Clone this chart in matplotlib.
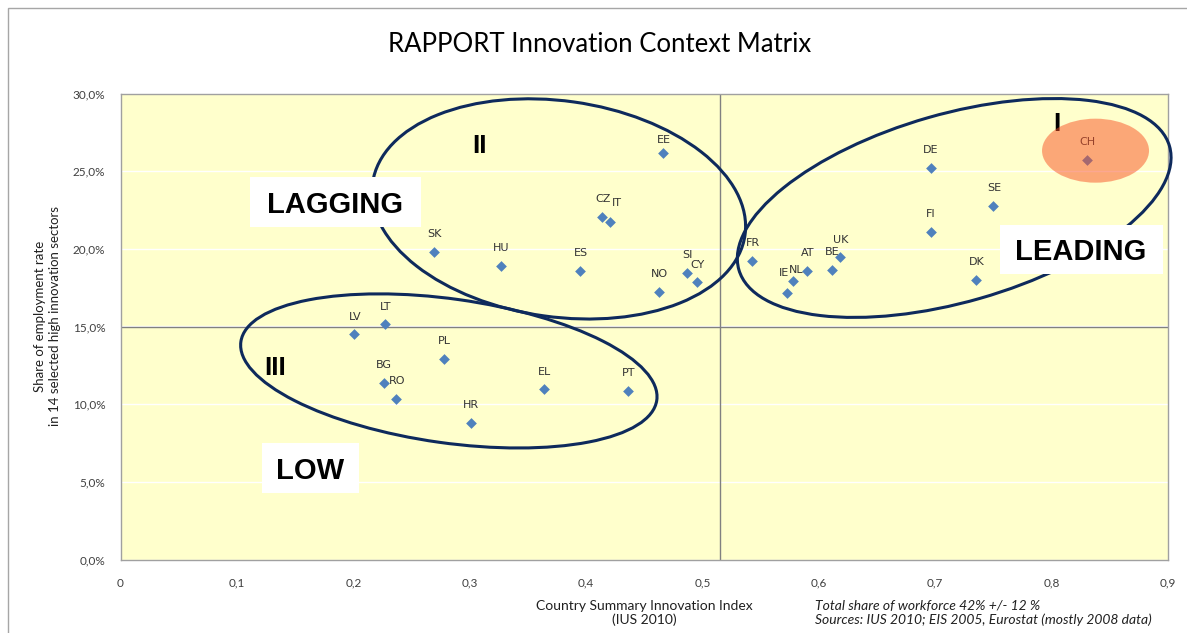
import matplotlib
matplotlib.use('Agg')
import matplotlib.pyplot as plt
from matplotlib.patches import Ellipse, Rectangle
from matplotlib.transforms import IdentityTransform
from matplotlib.ticker import FuncFormatter, MultipleLocator
from matplotlib import font_manager as fm

# country data: summary innovation index (IUS 2010) vs share of employment
countries = ['EE', 'CZ', 'IT', 'SK', 'HU', 'ES', 'NO', 'SI', 'CY',
             'DE', 'CH', 'SE', 'FI', 'FR', 'UK', 'BE', 'AT', 'NL', 'IE', 'DK',
             'LV', 'LT', 'PL', 'BG', 'RO', 'HR', 'EL', 'PT']
innovation = [0.466, 0.414, 0.421, 0.269, 0.327, 0.395, 0.463, 0.487, 0.495,
              0.696, 0.830, 0.750, 0.696, 0.543, 0.618, 0.611, 0.590, 0.578, 0.573, 0.735,
              0.201, 0.227, 0.278, 0.226, 0.237, 0.301, 0.364, 0.436]
employment = [0.2620, 0.2205, 0.2173, 0.1980, 0.1892, 0.1858, 0.1724, 0.1847, 0.1785,
              0.2523, 0.2574, 0.2276, 0.2111, 0.1924, 0.1946, 0.1866, 0.1860, 0.1791, 0.1714, 0.1800,
              0.1450, 0.1514, 0.1291, 0.1137, 0.1035, 0.0881, 0.1096, 0.1087]

x_cross = 0.5155   # quadrant split on innovation index
y_cross = 0.15     # quadrant split on employment share

title = 'RAPPORT Innovation Context Matrix'
xlabel = 'Country Summary Innovation Index\n(IUS 2010)'
ylabel = 'Share of employment rate\nin 14 selected high innovation sectors'
note = ('Total share of workforce 42% +/- 12 %\n'
        'Sources: IUS 2010; EIS 2005, Eurostat (mostly 2008 data)')

# label nudges (pixels) for crowded points, default is straight above
label_shift = {'EE': (1, 13), 'IT': (6, 19), 'NL': (3, 11), 'IE': (-3, 20)}

# group ellipses: centre in data units, size in pixels, angle in degrees
groups = [(0.3766, 0.2257, 376, 216, -8),   # II  lagging
          (0.7163, 0.2263, 448, 188, 16),   # I   leading
          (0.2821, 0.1214, 420, 144, -8)]   # III low
numerals = [('II', 0.3087, 0.2675), ('I', 0.8043, 0.2817), ('III', 0.1327, 0.1246)]
boxes = [('LAGGING', 0.1846, 0.2302, 171, 50),
         ('LEADING', 0.8253, 0.1996, 163, 49),
         ('LOW', 0.1632, 0.0589, 97, 50)]

names = {f.name for f in fm.fontManager.ttflist}
narrow = 'Liberation Sans Narrow' if 'Liberation Sans Narrow' in names else 'Lato'

W, H = 1187, 633
fig = plt.figure(figsize=(W / 100, H / 100), dpi=100)
ax = fig.add_axes([120.5 / W, (H - 559.5) / H, (1168 - 120.5) / W, (559.5 - 93.5) / H])
ax.set_facecolor('#FFFFCC')
ax.set_xlim(0, 0.9)
ax.set_ylim(0, 0.30)
ax.xaxis.set_major_locator(MultipleLocator(0.1))
ax.yaxis.set_major_locator(MultipleLocator(0.05))
ax.xaxis.set_major_formatter(FuncFormatter(lambda v, p: '0' if v == 0 else f'{v:.1f}'.replace('.', ',')))
ax.yaxis.set_major_formatter(FuncFormatter(lambda v, p: f'{v * 100:.1f}%'.replace('.', ',')))
ax.tick_params(length=0, labelsize=8.5, labelcolor='#404040')
ax.tick_params(axis='x', pad=13)
ax.tick_params(axis='y', pad=11)
for lab in ax.get_xticklabels() + ax.get_yticklabels():
    lab.set_family(narrow)
ax.grid(axis='y', color='white', lw=1)
ax.set_axisbelow(True)
for s in ax.spines.values():
    s.set_color('#A0A0A0')
    s.set_linewidth(1)

ax.axvline(x_cross, color='#808080', lw=1, zorder=1)
ax.axhline(y_cross, color='#808080', lw=1, zorder=1)

ax.scatter(innovation, employment, marker='D', s=30, color='#4F81BD', zorder=3, linewidths=0)
for c, xv, yv in zip(countries, innovation, employment):
    dx, dy = label_shift.get(c, (0.5, 17.5))
    ax.annotate(c, (xv, yv), xytext=(dx * 0.72, dy * 0.72), textcoords='offset points',
                ha='center', va='center', fontsize=8, color='#333333', zorder=4)

fig.text(600 / W, (H - 45) / H, title, ha='center', va='center', fontsize=18.5,
         family=narrow, color='#000000')
fig.text(644 / W, (H - 613) / H, xlabel, ha='center', va='center', fontsize=10,
         family=narrow, color='#202020', linespacing=1.2)
fig.text(815 / W, (H - 613) / H, note, ha='left', va='center', fontsize=10,
         family=narrow, style='italic', color='#202020', linespacing=1.2)
fig.text(48 / W, (H - 316) / H, ylabel, ha='center', va='center', rotation=90,
         fontsize=9.5, family=narrow, color='#202020', linespacing=1.3)

# outer chart frame
fig.add_artist(Rectangle((8 / W, -1), 5, 1 + (H - 8) / H, transform=fig.transFigure,
                         fill=False, ec='#A6A6A6', lw=1))

px = IdentityTransform()
for cx, cy, w, h, ang in groups:
    x0, y0 = ax.transData.transform((cx, cy))
    fig.add_artist(Ellipse((x0, y0), w, h, angle=ang, transform=px, fill=False,
                           ec='#0E2A5C', lw=2.2, zorder=1.5))

for txt, cx, cy, w, h in boxes:
    x0, y0 = ax.transData.transform((cx, cy))
    fig.add_artist(Rectangle((x0 - w / 2, y0 - h / 2), w, h, transform=px,
                             fc='white', ec='none', zorder=2))
    fig.text(x0, y0, txt, transform=px, ha='center', va='center_baseline', fontsize=21,
             fontweight='bold', family='Liberation Sans', color='black', zorder=3)

for txt, cx, cy in numerals:
    x0, y0 = ax.transData.transform((cx, cy))
    fig.text(x0, y0, txt, transform=px, ha='center', va='center_baseline', fontsize=19,
             fontweight='bold', family='Liberation Sans', color='black', zorder=3)

# highlight of the top performer
ch = countries.index('CH')
hx, hy = ax.transData.transform((innovation[ch], employment[ch]))
fig.add_artist(Ellipse((hx + 9, hy + 9), 107, 64, transform=px, fc='#F95124',
                       ec='none', alpha=0.5, zorder=4))

fig.savefig('out.png', dpi=100)
